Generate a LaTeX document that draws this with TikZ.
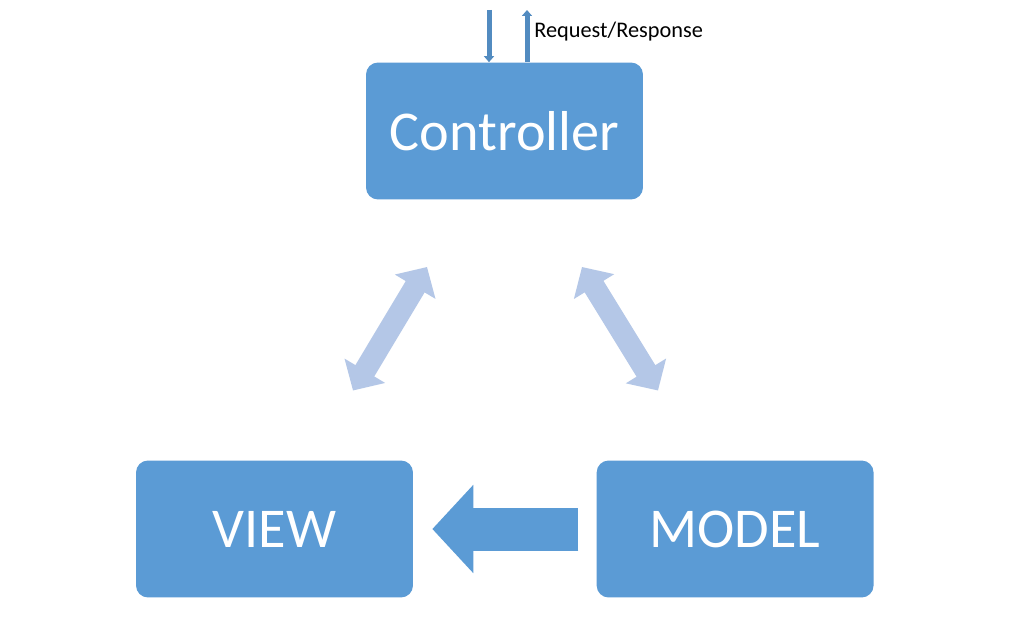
\documentclass[tikz,border=0pt]{standalone}
\usepackage{fontspec}
\setmainfont{Carlito}
\usepackage{xcolor}
\usetikzlibrary{arrows.meta, positioning}
\definecolor{boxblue}{HTML}{5B9BD5}
\definecolor{paleblue}{HTML}{B4C7E7}
\definecolor{lineblue}{HTML}{41719C}

\begin{document}
\begin{tikzpicture}[x=0.02cm, y=-0.02cm,
    block/.style={rectangle, fill=boxblue, rounded corners=0.24cm, minimum width=5.54cm, minimum height=2.74cm, text=white, font=\fontsize{32}{38}\selectfont},
    thin arrow/.style={-{Triangle[width=0.2cm, length=0.12cm]}, line width=0.1cm, draw=boxblue!90!black},
    link/.style={{Triangle[width=0.92cm, length=0.46cm]}-{Triangle[width=0.92cm, length=0.46cm]}, line width=0.44cm, draw=paleblue},
    flow/.style={-{Triangle[width=1.72cm, length=0.82cm]}, line width=0.86cm, draw=boxblue}
]
\path[use as bounding box, fill=white] (0,0) rectangle (1034,628);
\node[block] (ctrl) at (504.5,131) {Controller};
\node[block] (view) at (274.5,529) {VIEW};
\node[block, right=3.66cm of view] (model) {MODEL};

\coordinate (req) at (489,10);
\coordinate (resp) at (527,10);
\draw[thin arrow] (req) -- (req |- ctrl.north);
\draw[thin arrow] (resp |- ctrl.north) -- (resp);
\node[anchor=west, font=\fontsize{12.7}{15}\selectfont, inner sep=0pt] (rr) at (534,32) {Request/Response};

\coordinate (v1) at (353,390.5);
\coordinate (c1) at (427,267);
\coordinate (c2) at (582,267);
\coordinate (m1) at (658,390.5);
\draw[link] (v1) -- (c1);
\draw[link] (c2) -- (m1);

\draw[flow, shorten <=0.36cm, shorten >=0.38cm] (model.west) -- (view.east);
\end{tikzpicture}
\end{document}
